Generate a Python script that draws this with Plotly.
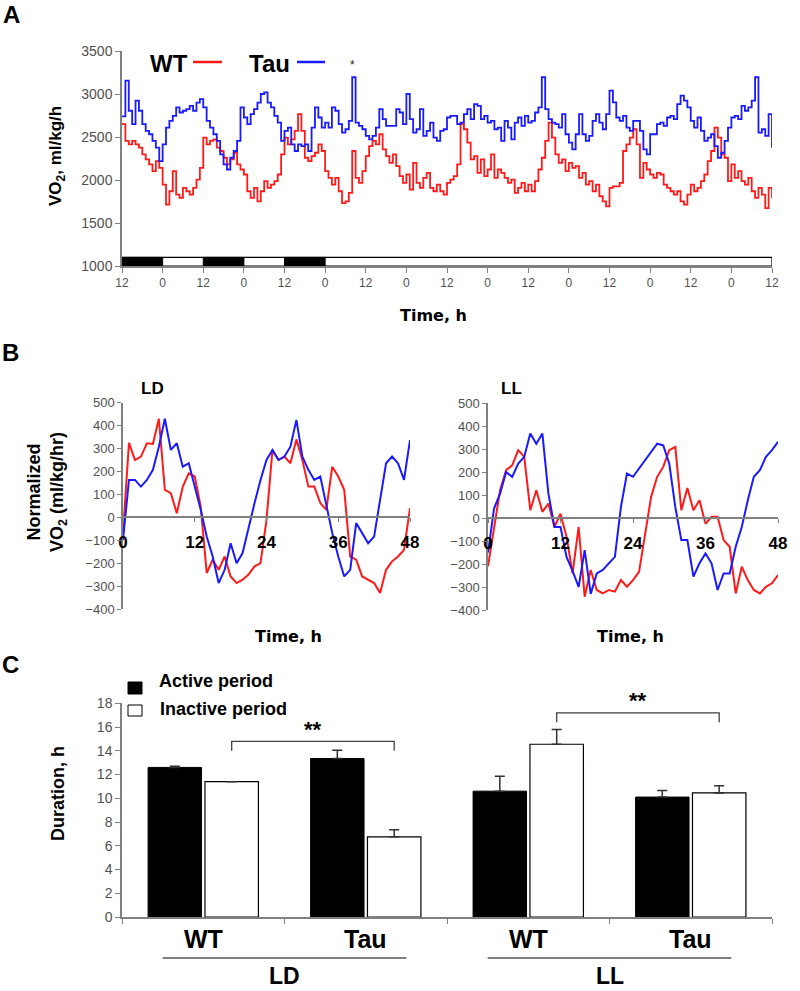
import plotly.graph_objects as go

W, H = 800, 991
def fx(px):
    return px / W
def fy(py):
    return 1 - py / H

FONT = "Liberation Sans, Arial, Helvetica, sans-serif"
WIDE = "DejaVu Sans, Liberation Sans, Arial, sans-serif"
AXIS_GRAY = "#808080"
TICK_GRAY = "#505050"
RED = "#ff1a1a"
BLUE = "#1a1aff"

# ---------------- Panel A: VO2 over 8 days ----------------
hours_A = list(range(193))
wt_A = [2650, 2454, 2415, 2454, 2415, 2376, 2298, 2240, 2181, 2103,
        2220, 2142, 1947, 1713, 1869, 2103, 1830, 1791, 1908, 1869,
        1830, 1908, 2005, 2142, 2493, 2415, 2454, 2473, 2376, 2337,
        2259, 2181, 2240, 2317, 2181, 2122, 2064, 1869, 1791, 1908,
        1752, 1869, 1986, 1908, 1947, 1986, 2064, 2298, 2493,
        2415, 2473, 2571, 2766, 2571, 2259, 2220, 2278, 2317, 2415,
        2337, 2103, 2025, 1947, 2025, 1869, 1732, 1752, 1850, 2337,
        2025, 1966, 2103, 2278, 2395, 2454, 2415, 2532, 2356, 2278,
        2200, 2298, 2161, 2044, 1966, 2064, 1889, 2200, 1966, 1908,
        2025, 2083, 1908, 1869, 1947, 1869, 1830, 1966,
        2005, 2044, 2181, 2649, 2590, 2434, 2240, 2278, 2083, 2240,
        2044, 2122, 2298, 2025, 2122, 2083, 2025, 1966, 2005, 1850,
        1908, 1966, 1869, 1947, 1869, 1986, 2122, 2259, 2454, 2668,
        2493, 2298, 2200, 2240, 2103, 2200, 2142, 2161, 2025, 2083,
        1947, 1986, 1869, 1947, 1811, 1752, 1693, 1908,
        1927, 1927, 1966, 2337, 2415, 2493, 2590, 2415, 2025, 2200,
        2122, 2064, 2025, 2083, 2064, 1947, 1908, 1869, 1830, 1869,
        1752, 1713, 1830, 1947, 1869, 1908, 1986, 2064, 2220, 2337,
        2610, 2493, 2298, 2259, 1986, 2181, 2025, 2103, 1986, 1947,
        2025, 1869, 1791, 1908, 1830, 1674, 1908, 1791]
tau_A = [2740, 3156, 2805, 2649, 2922, 2805, 2649, 2571, 2532, 2454,
         2376, 2220, 2415, 2610, 2688, 2746, 2844, 2785, 2805, 2825,
         2863, 2805, 2900, 2941, 2844, 2688, 2610, 2532, 2454, 2298,
         2181, 2122, 2259, 2337, 2454, 2844, 2727, 2649, 2766, 2825,
         2900, 3000, 3020, 2900, 2844, 2746, 2668, 2454, 2571,
         2610, 2415, 2337, 2415, 2395, 2415, 2337, 2610, 2844, 2727,
         2610, 2668, 2610, 2844, 2805, 2649, 2551, 2590, 2688, 3195,
         2668, 2629, 2590, 2512, 2473, 2512, 2610, 2825, 2707, 2629,
         2629, 2629, 2825, 2785, 2649, 3000, 2707, 2551, 2590, 2825,
         2512, 2571, 2668, 2493, 2454, 2571, 2590, 2727,
         2746, 2746, 2649, 2668, 2766, 2825, 2707, 2883, 2863, 2707,
         2746, 2668, 2688, 2590, 2610, 2454, 2688, 2610, 2473, 2668,
         2727, 2629, 2746, 2668, 2688, 2785, 2844, 3195, 2825, 2707,
         2668, 2649, 2610, 2766, 2532, 2434, 2356, 2532, 2766, 2532,
         2454, 2512, 2688, 2766, 2668, 2590, 2766, 3039,
         2902, 2727, 2688, 2746, 2610, 2571, 2688, 2688, 2571, 2356,
         2298, 2532, 2532, 2649, 2668, 2629, 2727, 2746, 2707, 2883,
         2980, 2922, 2844, 2688, 2610, 2727, 2571, 2454, 2493, 2532,
         2395, 2259, 2317, 2454, 2610, 2727, 2746, 2707, 2863, 2805,
         2844, 2922, 3195, 2551, 2590, 2512, 2766, 2376]
clock_start = 12            # clock time at hour 0
segment_hours = 12
ld_segments = ["D", "L", "D", "L", "D", "L", "L", "L",
               "L", "L", "L", "L", "L", "L", "L", "L"]
ld_bar_range = [1000, 1100]
star_hour = 68

# ---------------- Panel B: normalized VO2 (48 h) ----------------
hours_B = list(range(49))
wt_LD = [-70, 325, 250, 265, 323, 320, 430, 120, 105, 18,
         134, 192, 178, 47, -243, -185, -229, -171, -258, -287,
         -272, -250, -214, -200, -11, 294, 250, 265, 236, 340,
         250, 134, 134, 62, 33, 221, 178, 120, -171, -185,
         -258, -272, -287, -330, -229, -192, -171, -142, 40]
tau_LD = [-100, 163, 163, 134, 163, 207, 308, 430, 294, 323,
          221, 236, 134, 33, -84, -171, -287, -229, -113, -200,
          -156, -40, 62, 163, 250, 294, 250, 265, 308, 425,
          265, 207, 163, 178, 47, -69, -171, -258, -229, -25,
          -69, -113, -84, 76, 236, 265, 236, 163, 337]
wt_LL = [-210, -46, 121, 208, 229, 295, 266, 34, 121, 27,
         63, -39, 19, -82, -241, -39, -342, -226, -313, -328,
         -313, -320, -270, -299, -270, -234, -67, 92, 179, 222,
         295, 309, 34, 130, 34, 77, -25, 5, 5, -96,
         -125, -328, -212, -270, -313, -328, -299, -284, -248]
tau_LL = [-150, 41, 106, 200, 179, 237, 266, 367, 323, 367,
          106, -39, -39, -169, -230, -300, -140, -330, -241, -226,
          -197, -169, 48, 193, 179, 215, 251, 287, 323, 316,
          237, 48, -96, -96, -255, -197, -154, -197, -313, -241,
          -241, -125, -39, 77, 179, 208, 266, 295, 331]
b_xticks = [0, 12, 24, 36, 48]
b_yticks = list(range(-400, 501, 100))

# ---------------- Panel C: durations ----------------
genotypes = ["WT", "Tau", "WT", "Tau"]
conditions = ["LD", "LL"]
active = [12.6, 13.35, 10.6, 10.1]
active_err = [0.1, 0.7, 1.25, 0.55]
inactive = [11.4, 6.75, 14.55, 10.45]
inactive_err = [0.0, 0.6, 1.25, 0.6]
sig_pairs = [(0, 1), (2, 3)]
sig_levels = [14.8, 17.2]
sig_labels = ["**", "**"]

bargap = 0.3
bargroupgap = 0.06

fig = go.Figure()

# Panel A traces
fig.add_trace(go.Scatter(x=hours_A, y=wt_A, mode="lines",
                         line=dict(color=RED, width=1.8, shape="hv"), xaxis="x", yaxis="y"))
fig.add_trace(go.Scatter(x=hours_A, y=tau_A, mode="lines",
                         line=dict(color=BLUE, width=1.8, shape="hv"), xaxis="x", yaxis="y"))

# Panel B traces
fig.add_trace(go.Scatter(x=hours_B, y=wt_LD, mode="lines",
                         line=dict(color=RED, width=2), xaxis="x2", yaxis="y2"))
fig.add_trace(go.Scatter(x=hours_B, y=tau_LD, mode="lines",
                         line=dict(color=BLUE, width=2), xaxis="x2", yaxis="y2"))
fig.add_trace(go.Scatter(x=hours_B, y=wt_LL, mode="lines",
                         line=dict(color=RED, width=2), xaxis="x3", yaxis="y3"))
fig.add_trace(go.Scatter(x=hours_B, y=tau_LL, mode="lines",
                         line=dict(color=BLUE, width=2), xaxis="x3", yaxis="y3"))

# Panel C bars
cat_x = list(range(len(genotypes)))
fig.add_trace(go.Bar(x=cat_x, y=active, marker=dict(color="black", line=dict(color="black", width=1)),
                     error_y=dict(type="data", symmetric=False, array=active_err,
                                  arrayminus=[0] * len(active), color="#303030",
                                  thickness=1.5, width=5),
                     xaxis="x4", yaxis="y4"))
fig.add_trace(go.Bar(x=cat_x, y=inactive, marker=dict(color="white", line=dict(color="black", width=1.2)),
                     error_y=dict(type="data", symmetric=False, array=inactive_err,
                                  arrayminus=[0] * len(inactive), color="#303030",
                                  thickness=1.5, width=5),
                     xaxis="x4", yaxis="y4"))

shapes = []
annotations = []

def label(px, py, text, size, family=FONT, xanchor="center", angle=0, color="black"):
    annotations.append(dict(x=fx(px), y=fy(py), xref="paper", yref="paper", text=text,
                            showarrow=False, xanchor=xanchor, yanchor="middle", textangle=angle,
                            font=dict(family=family, size=size, color=color)))

# LD bar in panel A
shapes.append(dict(type="rect", xref="x", yref="y", x0=0, x1=segment_hours * len(ld_segments),
                   y0=ld_bar_range[0], y1=ld_bar_range[1],
                   fillcolor="white", line=dict(color="black", width=1.2)))
for i, s in enumerate(ld_segments):
    if s == "D":
        shapes.append(dict(type="rect", xref="x", yref="y", x0=i * segment_hours,
                           x1=(i + 1) * segment_hours, y0=ld_bar_range[0], y1=ld_bar_range[1],
                           fillcolor="black", line=dict(color="black", width=1)))

# Panel A legend and titles
label(148, 63.5, "<b>WT</b>", 24, xanchor="left")
label(247, 63.5, "<b>Tau</b>", 24, xanchor="left")
shapes.append(dict(type="line", xref="paper", yref="paper", x0=fx(193), x1=fx(222),
                   y0=fy(62), y1=fy(62), line=dict(color=RED, width=2.5)))
shapes.append(dict(type="line", xref="paper", yref="paper", x0=fx(297), x1=fx(325),
                   y0=fy(62), y1=fy(62), line=dict(color=BLUE, width=2.5)))
annotations.append(dict(x=star_hour, y=3340, xref="x", yref="y", text="*", showarrow=False,
                        xanchor="center", yanchor="middle",
                        font=dict(family=FONT, size=12, color="#222222")))
label(57, 156, "<b>VO<sub>2</sub>, ml/kg/h</b>", 17, angle=-90)
label(433, 315, "<b>Time, h</b>", 16, family=WIDE)

# Panel B labels
label(152, 388, "<b>LD</b>", 17)
label(511, 388, "<b>LL</b>", 17)
label(47, 492, "<b>Normalized<br>VO<sub>2</sub> (ml/kg/hr)</b>", 18, angle=-90)
label(288, 636, "<b>Time, h</b>", 16, family=WIDE)
label(630, 636, "<b>Time, h</b>", 16, family=WIDE)

# Panel letters
for letter, (px, py) in zip(["A", "B", "C"], [(11, 14), (10, 352), (10, 664)]):
    label(px, py, "<b>%s</b>" % letter, 24)

# Panel C legend
shapes.append(dict(type="rect", xref="paper", yref="paper", x0=fx(128), x1=fx(142),
                   y0=fy(694), y1=fy(682), fillcolor="black", line=dict(color="black", width=1)))
shapes.append(dict(type="rect", xref="paper", yref="paper", x0=fx(128), x1=fx(142),
                   y0=fy(716), y1=fy(705), fillcolor="white", line=dict(color="black", width=1)))
label(157, 681, "<b>Active period</b>", 18, xanchor="left")
label(158, 709, "<b>Inactive period</b>", 18, xanchor="left")
label(58, 793, "<b>Duration, h</b>", 18, angle=-90)

# Axis helpers
yA_dom = [fy(266), fy(51)]
yB1_dom = [fy(609), fy(402.7)]
yB2_dom = [fy(610), fy(403)]
yC_dom = [fy(917), fy(703.3)]
b_range = [-400, 500]
c_range = [0, 18]

def to_paper(v, dom, rng):
    return dom[0] + (v - rng[0]) / (rng[1] - rng[0]) * (dom[1] - dom[0])

# Significance brackets
slot = (1 - bargap) / 2
white_off = slot / 2
drop = 0.8
star_gap = 1.0
for (a, b), lev, lab in zip(sig_pairs, sig_levels, sig_labels):
    xa = a + white_off
    xb = b + white_off
    shapes.append(dict(type="path", xref="x4", yref="y4",
                       path="M %f,%f L %f,%f L %f,%f L %f,%f" % (xa, lev - drop, xa, lev, xb, lev, xb, lev - drop),
                       line=dict(color="#404040", width=1.3)))
    annotations.append(dict(x=(xa + xb) / 2, y=to_paper(lev + star_gap, yC_dom, c_range),
                            xref="x4", yref="paper", text="<b>%s</b>" % lab,
                            showarrow=False, xanchor="center", yanchor="middle",
                            font=dict(family=FONT, size=22, color="black")))

# Genotype labels & condition labels
for i, g in enumerate(genotypes):
    annotations.append(dict(x=i, y=fy(939), xref="x4", yref="paper", text="<b>%s</b>" % g,
                            showarrow=False, xanchor="center", yanchor="middle",
                            font=dict(family=FONT, size=25, color="black")))
for j, c in enumerate(conditions):
    center = 2 * j + 0.5
    shapes.append(dict(type="line", xref="x4", yref="paper", x0=center - 0.75, x1=center + 0.75,
                       y0=fy(958), y1=fy(958), line=dict(color="black", width=1.2)))
    annotations.append(dict(x=center, y=fy(976), xref="x4", yref="paper", text="<b>%s</b>" % c,
                            showarrow=False, xanchor="center", yanchor="middle",
                            font=dict(family=FONT, size=23, color="black")))

tickfont_gray = dict(family=FONT, size=13, color=TICK_GRAY)

a_ticks = list(range(0, segment_hours * len(ld_segments) + 1, segment_hours))
a_ticktext = [str((clock_start + t) % 24) for t in a_ticks]

common_axis = dict(showgrid=False, zeroline=False, showline=True, linecolor=AXIS_GRAY, linewidth=1.5,
                   ticks="outside", tickcolor=AXIS_GRAY, tickwidth=1.2, automargin=False)

fig.update_layout(
    width=W, height=H, autosize=False,
    margin=dict(l=0, r=0, t=0, b=0, pad=0),
    paper_bgcolor="white", plot_bgcolor="white",
    showlegend=False,
    barmode="group", bargap=bargap, bargroupgap=bargroupgap,
    xaxis=dict(domain=[fx(122), fx(772)], range=[0, 192], anchor="y",
               tickvals=a_ticks, ticktext=a_ticktext, ticklen=5,
               tickfont=dict(family=FONT, size=12, color=TICK_GRAY), **common_axis),
    yaxis=dict(domain=yA_dom, range=[1000, 3500], anchor="x", tickvals=list(range(1000, 3501, 500)),
               ticklen=5, tickfont=dict(family=FONT, size=14, color=TICK_GRAY), **common_axis),
    xaxis2=dict(domain=[fx(123), fx(410)], range=[0, 48], anchor="free",
                position=to_paper(0, yB1_dom, b_range),
                tickvals=b_xticks, ticktext=["<b>%d</b>" % t for t in b_xticks], ticklen=4,
                ticklabelstandoff=6,
                tickfont=dict(family=FONT, size=17, color="black"), **common_axis),
    yaxis2=dict(domain=yB1_dom, range=b_range, anchor="x2", tickvals=b_yticks, ticklen=4,
                tickfont=tickfont_gray, **common_axis),
    xaxis3=dict(domain=[fx(488), fx(778)], range=[0, 48], anchor="free",
                position=to_paper(0, yB2_dom, b_range),
                tickvals=b_xticks, ticktext=["<b>%d</b>" % t for t in b_xticks], ticklen=4,
                ticklabelstandoff=6,
                tickfont=dict(family=FONT, size=17, color="black"), **common_axis),
    yaxis3=dict(domain=yB2_dom, range=b_range, anchor="x3", tickvals=b_yticks, ticklen=4,
                tickfont=tickfont_gray, **common_axis),
    xaxis4=dict(domain=[fx(122), fx(772)], range=[-0.5, len(genotypes) - 0.5], anchor="y4",
                tickvals=[i - 0.5 for i in range(len(genotypes) + 1)], ticklen=5,
                showticklabels=False, **common_axis),
    yaxis4=dict(domain=yC_dom, range=c_range, anchor="x4", tickvals=list(range(0, 19, 2)), ticklen=5,
                tickfont=dict(family=FONT, size=14, color=TICK_GRAY), **common_axis),
    shapes=shapes,
    annotations=annotations,
)

# The page body has a default 8px margin; remove it so the figure fills the window exactly.
fig.write_html("out.html", config={"displayModeBar": False},
               post_script="document.body.style.margin='0px';document.body.style.padding='0px';")
